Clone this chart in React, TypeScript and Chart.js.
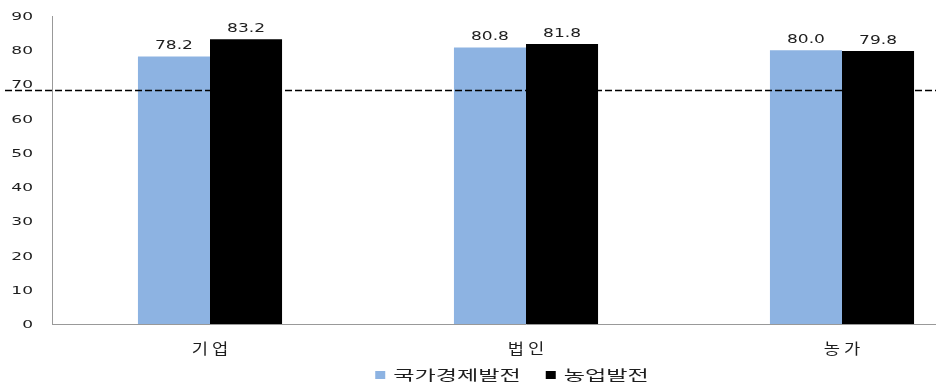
import React, { useEffect, useRef } from "react";
import { Chart, registerables } from "chart.js";

Chart.register(...registerables);

const categories = ["기업", "법인", "농가"];
const seriesNames = ["국가경제발전", "농업발전"];
const seriesColors = ["#8DB3E2", "#000000"];
const nationalEconomy = [78.2, 80.8, 80.0];
const agriDevelopment = [83.2, 81.8, 79.8];
const referenceValue = 68.4;
const yTicks = [0, 10, 20, 30, 40, 50, 60, 70, 80, 90];

const NUM_FONT = "'DejaVu Sans', Verdana, sans-serif";
const KR_FONT = "'Noto Sans CJK KR', 'Noto Sans', sans-serif";
const TEXT_COLOR = "#1e1e1e";

function stretchedText(
  ctx: CanvasRenderingContext2D,
  text: string,
  x: number,
  y: number,
  sx: number,
  align: CanvasTextAlign,
  baseline: CanvasTextBaseline
) {
  ctx.save();
  ctx.translate(x, y);
  ctx.scale(sx, 1);
  ctx.textAlign = align;
  ctx.textBaseline = baseline;
  ctx.fillText(text, 0, 0);
  ctx.restore();
}

export default function App() {
  const ref = useRef<HTMLCanvasElement | null>(null);

  useEffect(() => {
    if (!ref.current) return;

    const dashPlugin = {
      id: "dashLine",
      afterDatasetsDraw(chart: any) {
        const ctx = chart.ctx;
        const y = Math.round(chart.scales.y.getPixelForValue(referenceValue)) + 0.5;
        ctx.save();
        ctx.strokeStyle = "#000";
        ctx.lineWidth = 1.3;
        ctx.setLineDash([7, 3]);
        ctx.beginPath();
        ctx.moveTo(5, y);
        ctx.lineTo(chart.width, y);
        ctx.stroke();
        ctx.restore();
      },
    };

    const textPlugin = {
      id: "texts",
      afterDraw(chart: any) {
        const ctx: CanvasRenderingContext2D = chart.ctx;
        ctx.save();
        ctx.fillStyle = TEXT_COLOR;

        // data labels
        ctx.font = `12px ${NUM_FONT}`;
        chart.data.datasets.forEach((ds: any, i: number) => {
          const meta = chart.getDatasetMeta(i);
          meta.data.forEach((bar: any, j: number) => {
            stretchedText(ctx, Number(ds.data[j]).toFixed(1), bar.x, bar.y - 7, 1.42, "center", "alphabetic");
          });
        });

        // y ticks
        const ys = chart.scales.y;
        ctx.font = `11px ${NUM_FONT}`;
        yTicks.forEach((v) => {
          stretchedText(ctx, String(v), ys.left + ys.width - 19, ys.getPixelForValue(v) + 4, 1.55, "right", "alphabetic");
        });

        // x labels
        const xs = chart.scales.x;
        ctx.font = `15px ${KR_FONT}`;
        categories.forEach((c, i) => {
          const x = xs.getPixelForValue(i);
          stretchedText(ctx, c.split("").join(" "), x, xs.top + 24, 1.18, "center", "middle");
        });

        // legend
        const sx = 1.65;
        ctx.font = `14px ${KR_FONT}`;
        const boxW = 10;
        const boxH = 8;
        const gap = 8;
        const itemGap = 25;
        const widths = seriesNames.map((n) => ctx.measureText(n).width * sx);
        const total = widths.reduce((a, w) => a + boxW + gap + w, 0) + itemGap * (seriesNames.length - 1);
        let x = chart.width / 2 - total / 2;
        const ly = 375;
        seriesNames.forEach((n, i) => {
          ctx.fillStyle = seriesColors[i];
          ctx.fillRect(x, ly - boxH / 2, boxW, boxH);
          x += boxW + gap;
          ctx.fillStyle = TEXT_COLOR;
          stretchedText(ctx, n, x, ly, sx, "left", "middle");
          x += widths[i] + itemGap;
        });

        ctx.restore();
      },
    };

    const chart = new Chart(ref.current, {
      type: "bar",
      data: {
        labels: categories,
        datasets: [
          {
            label: seriesNames[0],
            data: nationalEconomy,
            backgroundColor: seriesColors[0],
            categoryPercentage: 0.456,
            barPercentage: 1,
          },
          {
            label: seriesNames[1],
            data: agriDevelopment,
            backgroundColor: seriesColors[1],
            categoryPercentage: 0.456,
            barPercentage: 1,
          },
        ],
      },
      options: {
        responsive: false,
        animation: false,
        devicePixelRatio: 1,
        layout: { padding: { top: 16, right: 24, left: 0, bottom: 0 } },
        plugins: {
          legend: { display: false },
          tooltip: { enabled: false },
        },
        scales: {
          x: {
            grid: { display: false, drawTicks: false },
            border: { display: true, color: "#999" },
            ticks: { display: false },
            afterFit: (scale: any) => {
              scale.height = 61;
            },
          },
          y: {
            min: 0,
            max: 90,
            afterBuildTicks: (scale: any) => {
              scale.ticks = yTicks.map((v) => ({ value: v }));
            },
            afterFit: (scale: any) => {
              scale.width = 52;
            },
            grid: { display: false, drawTicks: false },
            border: { display: true, color: "#999" },
            ticks: { display: false },
          },
        },
      },
      plugins: [dashPlugin, textPlugin],
    });

    return () => chart.destroy();
  }, []);

  return (
    <div
      style={{
        position: "absolute",
        left: 0,
        top: 0,
        width: 936,
        height: 385,
        overflow: "hidden",
        background: "#fff",
      }}
    >
      <canvas ref={ref} width={1024} height={385} style={{ display: "block" }} />
    </div>
  );
}
